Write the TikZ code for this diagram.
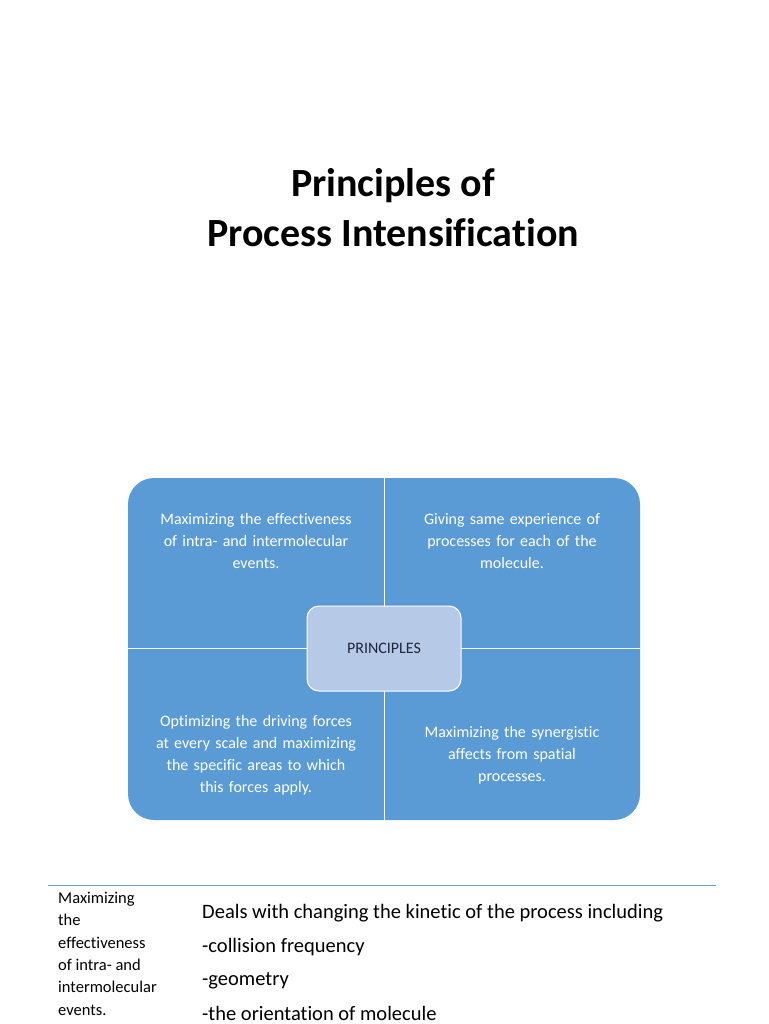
\documentclass[tikz,border=0pt]{standalone}
\usepackage{fontspec}
\setmainfont{Carlito}[Ligatures={NoCommon}]
\definecolor{qblue}{RGB}{91,155,213}
\definecolor{cblue}{RGB}{182,202,232}
\definecolor{ctext}{RGB}{30,40,60}
\definecolor{lblue}{RGB}{100,165,215}
\begin{document}
\begin{tikzpicture}[x=1pt,y=-1pt,
  quad/.style={text=white,font=\fontsize{16}{22}\selectfont,align=center,text width=235pt},
  rline/.style={anchor=west,font=\fontsize{20.5}{23}\selectfont,inner sep=0pt}]
\useasboundingbox (0,0) rectangle (768,1024);
\node[font=\fontsize{40}{50}\selectfont\bfseries,align=center] (title) at (393,208) {Principles of\\Process Intensification};
\fill[rounded corners=26pt,fill=qblue] (128,478) rectangle (640,820);
\draw[white,line width=1pt] (384,478) -- (384,820) (128,648) -- (640,648);
\node[quad] (q1) at (256,541) {Maximizing the effectiveness\\of intra- and intermolecular\\events.};
\node[quad] (q2) at (512,541) {Giving same experience of\\processes for each of the\\molecule.};
\node[quad] (q3) at (256,755) {Optimizing the driving forces\\at every scale and maximizing\\the specific areas to which\\this forces apply.};
\node[quad] (q4) at (512,755) {Maximizing the synergistic\\affects from spatial\\processes.};
\node[draw=white,line width=1pt,rounded corners=12pt,fill=cblue,minimum width=154pt,minimum height=85pt,font=\fontsize{16}{18}\selectfont,text=ctext] (center) at (384,648.5) {PRINCIPLES};
\draw[lblue,line width=1pt] (48,885) -- (716,885);
\node[anchor=north west,align=left,inner sep=0pt,font=\fontsize{16.5}{22.3}\selectfont] (left) at (58,892) {Maximizing\\the\\effectiveness\\of intra- and\\intermolecular\\events.};
\node[rline] (r1) at (202,913) {Deals with changing the kinetic of the process including};
\node[rline] (r2) at (202,947) {-collision frequency};
\node[rline] (r3) at (202,981) {-geometry};
\node[rline] (r4) at (202,1013) {-the orientation of molecule};
\end{tikzpicture}
\end{document}
